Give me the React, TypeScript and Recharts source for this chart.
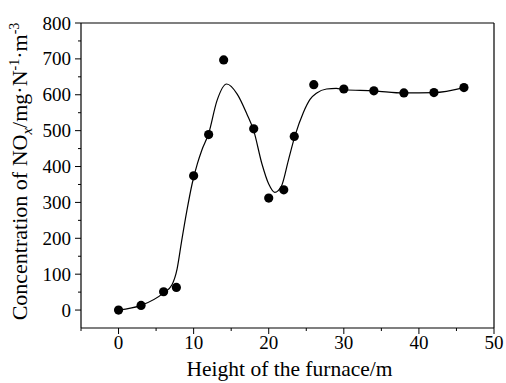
import React from "react";
import { ComposedChart, Line, Scatter, XAxis, YAxis, ReferenceLine, Label } from "recharts";

const pointX = [0, 3, 6, 7.7, 10, 12, 14, 18, 20, 22, 23.4, 26, 30, 34, 38, 42, 46];
const pointY = [0, 13, 51, 63, 374, 489, 697, 505, 312, 335, 484, 628, 616, 611, 605, 606, 620];

const curveX = [0, 3, 6, 7.1, 7.8, 8.4, 9.1, 9.8, 10.5, 11.1, 12, 13.1, 14.4, 15.8, 17.1, 18, 19.1, 20, 20.8, 21.7, 22.6, 23.5, 24.6, 25.5, 26.4, 27.7, 29, 30, 34, 38, 42, 46];
const curveY = [0, 13, 48, 70, 115, 192, 277, 352, 408, 446, 492, 583, 630, 602, 546, 500, 407, 351, 328, 346, 416, 486, 550, 587, 605, 616, 618, 614, 611, 605, 606, 620];

const xMajorTicks = [0, 10, 20, 30, 40, 50];
const xMinorTicks = [-5, 5, 15, 25, 35, 45];
const yMajorTicks = [0, 100, 200, 300, 400, 500, 600, 700, 800];
const yMinorTicks = [50, 150, 250, 350, 450, 550, 650, 750];

const points = pointX.map((x, i) => ({ x, y: pointY[i] }));
const curve = curveX.map((x, i) => ({ x, y: curveY[i] }));

const FONT = "Liberation Serif, Times New Roman, DejaVu Serif, serif";
const textStyle: React.CSSProperties = { fontFamily: FONT };

const XTick = (props: any) => {
  const { x, y, payload } = props;
  const major = xMajorTicks.includes(payload.value);
  return (
    <g>
      <line x1={x} x2={x} y1={y} y2={y + (major ? 6 : 3)} stroke="#000" strokeWidth={1} />
      {major && (
        <text x={x} y={y + 21} textAnchor="middle" style={textStyle} fontSize={19} fill="#000">
          {payload.value}
        </text>
      )}
    </g>
  );
};

const YTick = (props: any) => {
  const { x, y, payload } = props;
  const major = yMajorTicks.includes(payload.value);
  return (
    <g>
      <line x1={x} x2={x - (major ? 6 : 3)} y1={y} y2={y} stroke="#000" strokeWidth={1} />
      {major && (
        <text x={x - 10} y={y + 6.5} textAnchor="end" style={textStyle} fontSize={19} fill="#000">
          {payload.value}
        </text>
      )}
    </g>
  );
};

const Dot = (p: any) => <circle cx={p.cx} cy={p.cy} r={4.6} fill="#000" />;

const XLabel = (props: any) => {
  const vb = props.viewBox;
  return (
    <text x={vb.x + vb.width / 2 + 2} y={vb.y + 48} textAnchor="middle" style={textStyle} fontSize={21.5} fill="#000">
      Height of the furnace/m
    </text>
  );
};

const YLabel = (props: any) => {
  const vb = props.viewBox;
  const cx = 27;
  const cy = vb.y + vb.height / 2 - 4;
  return (
    <text x={cx} y={cy} transform={`rotate(-90, ${cx}, ${cy})`} textAnchor="middle" style={textStyle} fontSize={22} fill="#000">
      <tspan>Concentration of NO</tspan>
      <tspan fontStyle="italic" fontSize={15} dy={5}>x</tspan>
      <tspan dy={-5}>/mg·N</tspan>
      <tspan fontSize={14} dy={-8}>-1</tspan>
      <tspan dy={8}>·m</tspan>
      <tspan fontSize={14} dy={-8}>-3</tspan>
    </text>
  );
};

export default function App() {
  return (
    <div style={{ position: "absolute", left: 0, top: 0, background: "#fff" }}>
      <ComposedChart width={506} height={383} margin={{ top: 23, right: 12, bottom: 25, left: 21 }}>
        <XAxis
          type="number"
          dataKey="x"
          domain={[-5, 50]}
          ticks={[...xMinorTicks, ...xMajorTicks].sort((a, b) => a - b)}
          interval={0}
          allowDataOverflow
          height={30}
          tickSize={0}
          tickMargin={0}
          tickLine={false}
          tick={<XTick />}
          axisLine={{ stroke: "#000", strokeWidth: 1.2 }}
        >
          <Label content={<XLabel />} />
        </XAxis>
        <YAxis
          type="number"
          dataKey="y"
          domain={[-50, 800]}
          ticks={[...yMinorTicks, ...yMajorTicks].sort((a, b) => a - b)}
          interval={0}
          allowDataOverflow
          width={60}
          tickSize={0}
          tickMargin={0}
          tickLine={false}
          tick={<YTick />}
          axisLine={{ stroke: "#000", strokeWidth: 1.2 }}
        >
          <Label content={<YLabel />} />
        </YAxis>
        <ReferenceLine y={800} stroke="#000" strokeWidth={1.2} />
        <ReferenceLine x={50} stroke="#000" strokeWidth={1.2} />
        <Line
          data={curve}
          dataKey="y"
          type="monotone"
          stroke="#000"
          strokeWidth={1.2}
          dot={false}
          activeDot={false}
          isAnimationActive={false}
        />
        <Scatter data={points} dataKey="y" fill="#000" shape={<Dot />} isAnimationActive={false} />
      </ComposedChart>
    </div>
  );
}
